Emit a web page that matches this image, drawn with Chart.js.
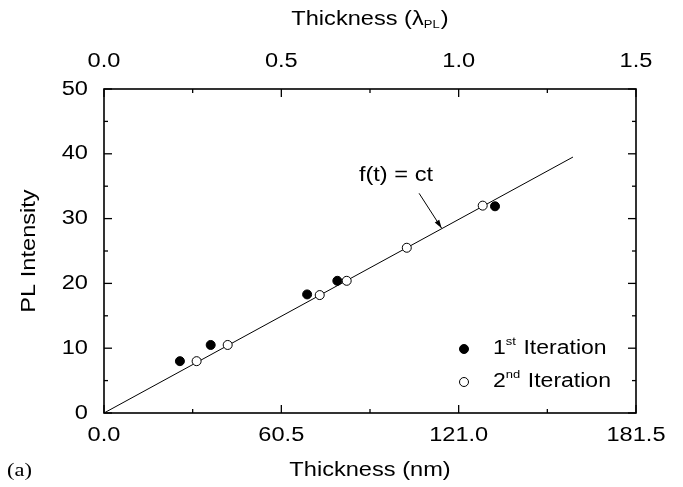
<!DOCTYPE html>
<html>
<head>
<meta charset="utf-8">
<script src="https://cdn.jsdelivr.net/npm/chart.js@4.4.1/dist/chart.umd.min.js"></script>
<style>
  html, body { margin: 0; padding: 0; background: #fff; }
  #wrap { width: 683px; height: 487px; }
</style>
</head>
<body>
<div id="wrap"><canvas id="pl-chart" width="683" height="487"></canvas></div>
<script>
// measured PL intensity vs. layer thickness
const iter1Thickness = [25.9, 36.4, 69.3, 79.6, 133.4];
const iter1Intensity = [8.0, 10.5, 18.3, 20.4, 31.9];
const iter2Thickness = [31.6, 42.2, 73.6, 82.8, 103.3, 129.2];
const iter2Intensity = [8.0, 10.5, 18.2, 20.4, 25.5, 32.0];

// linear fit f(t) = ct
const fitThickness = [0, 160];
const fitIntensity = [0, 39.5];

// axis ticks
const nmTicks = [0, 30.25, 60.5, 90.75, 121, 151.25, 181.5];
const nmLabels = [0, 60.5, 121, 181.5];
const lambdaTicks = [0, 0.25, 0.5, 0.75, 1.0, 1.25, 1.5];
const lambdaLabels = [0, 0.5, 1.0, 1.5];
const intensityTicks = [0, 5, 10, 15, 20, 25, 30, 35, 40, 45, 50];
const intensityLabels = [0, 10, 20, 30, 40, 50];

const FONT = '"Liberation Sans", Arial, sans-serif';
const SERIF = '"Liberation Serif", "Times New Roman", serif';
const STRETCH = 1.18; // glyphs are a little wide in this figure style

function toPoints(xs, ys) {
  return xs.map((x, i) => ({ x: x, y: ys[i] }));
}

function setTicks(list) {
  return (scale) => {
    scale.ticks = list.map((v) => ({ value: v }));
  };
}

function hasLabel(list, v) {
  return list.some((l) => Math.abs(l - v) < 1e-6);
}

// draws a run of text pieces [{t, size, dy, family}] starting/centred at x
function drawRich(ctx, parts, x, y, align, rotate) {
  ctx.save();
  ctx.translate(x, y);
  if (rotate) ctx.rotate(-Math.PI / 2);
  ctx.scale(STRETCH, 1);
  ctx.textBaseline = "middle";
  ctx.textAlign = "left";
  const widths = parts.map((p) => {
    ctx.font = p.size + "px " + (p.family || FONT);
    return ctx.measureText(p.t).width + (p.gap || 0);
  });
  const total = widths.reduce((a, b) => a + b, 0);
  let cx = align === "center" ? -total / 2 : align === "right" ? -total : 0;
  parts.forEach((p, i) => {
    ctx.font = p.size + "px " + (p.family || FONT);
    ctx.fillText(p.t, cx, p.dy || 0);
    cx += widths[i];
  });
  ctx.restore();
}

function drawText(ctx, text, x, y, align, size, rotate) {
  drawRich(ctx, [{ t: text, size: size || 20 }], x, y, align, rotate);
}

// frame, inward ticks, tick labels, legend and text
const decorPlugin = {
  id: "decor",
  afterDraw(chart) {
    const { ctx, chartArea: a, scales } = chart;
    ctx.save();
    ctx.strokeStyle = "#000";
    ctx.fillStyle = "#000";

    ctx.lineWidth = 1.6;
    ctx.strokeRect(a.left, a.top, a.right - a.left, a.bottom - a.top);

    ctx.lineWidth = 1.3;
    const seg = (x1, y1, x2, y2) => {
      ctx.beginPath();
      ctx.moveTo(x1, y1);
      ctx.lineTo(x2, y2);
      ctx.stroke();
    };
    nmTicks.forEach((v) => {
      const p = scales.x.getPixelForValue(v);
      const major = hasLabel(nmLabels, v);
      seg(p, a.bottom, p, a.bottom - (major ? 8 : 4));
      if (major) drawText(ctx, v.toFixed(1), p, 435, "center");
    });
    lambdaTicks.forEach((v) => {
      const p = scales.x2.getPixelForValue(v);
      const major = hasLabel(lambdaLabels, v);
      seg(p, a.top, p, a.top + (major ? 8 : 4));
      if (major) drawText(ctx, v.toFixed(1), p, 61, "center");
    });
    intensityTicks.forEach((v) => {
      const p = scales.y.getPixelForValue(v);
      const major = hasLabel(intensityLabels, v);
      const len = major ? 8 : 4;
      seg(a.left, p, a.left + len, p);
      seg(a.right, p, a.right - len, p);
      if (major) drawText(ctx, String(v), a.left - 16, p, "right");
    });

    // axis titles
    const midX = (a.left + a.right) / 2;
    drawText(ctx, "Thickness (nm)", midX, 470, "center");
    drawRich(ctx, [
      { t: "Thickness (\u03bb", size: 20 },
      { t: "PL", size: 11, dy: 6, gap: 1 },
      { t: ")", size: 20 },
    ], midX, 19, "center");
    drawText(ctx, "PL Intensity", 29, (a.top + a.bottom) / 2, "center", 20, true);
    drawRich(ctx, [{ t: "(a)", size: 19, family: SERIF }], 7, 471, "left");

    // fit label and arrow
    const sx = scales.x, sy = scales.y;
    drawText(ctx, "f(t) = ct", sx.getPixelForValue(99.6), sy.getPixelForValue(36.7), "center");
    const x0 = sx.getPixelForValue(107.5), y0 = sy.getPixelForValue(33.9);
    const x1 = sx.getPixelForValue(115.2), y1 = sy.getPixelForValue(28.5);
    ctx.lineWidth = 1;
    seg(x0, y0, x1, y1);
    const ang = Math.atan2(y1 - y0, x1 - x0);
    ctx.beginPath();
    ctx.moveTo(x1, y1);
    ctx.lineTo(x1 - 9 * Math.cos(ang - 0.3), y1 - 9 * Math.sin(ang - 0.3));
    ctx.lineTo(x1 - 9 * Math.cos(ang + 0.3), y1 - 9 * Math.sin(ang + 0.3));
    ctx.closePath();
    ctx.fill();

    // legend
    const rows = [
      { y: 349, fill: "#000", num: "1", sup: "st" },
      { y: 382, fill: "#fff", num: "2", sup: "nd" },
    ];
    rows.forEach((r) => {
      ctx.beginPath();
      ctx.arc(464, r.y, 4.5, 0, Math.PI * 2);
      ctx.fillStyle = r.fill;
      ctx.fill();
      ctx.lineWidth = 1;
      ctx.strokeStyle = "#000";
      ctx.stroke();
      ctx.fillStyle = "#000";
      drawRich(ctx, [
        { t: r.num, size: 19.5 },
        { t: r.sup, size: 11, dy: -7, gap: 1 },
        { t: " Iteration", size: 19.5 },
      ], 493, r.y, "left");
    });

    ctx.restore();
  },
};

const ctx = document.getElementById("pl-chart").getContext("2d");
new Chart(ctx, {
  type: "scatter",
  data: {
    datasets: [
      {
        label: "f(t) = ct",
        data: toPoints(fitThickness, fitIntensity),
        showLine: true,
        borderColor: "#000",
        borderWidth: 1,
        pointRadius: 0,
        order: 3,
      },
      {
        label: "1st Iteration",
        data: toPoints(iter1Thickness, iter1Intensity),
        pointRadius: 4.5,
        backgroundColor: "#000",
        borderColor: "#000",
        borderWidth: 1,
        order: 2,
      },
      {
        label: "2nd Iteration",
        data: toPoints(iter2Thickness, iter2Intensity),
        pointRadius: 4.5,
        backgroundColor: "#fff",
        borderColor: "#000",
        borderWidth: 1,
        order: 1,
      },
    ],
  },
  options: {
    responsive: false,
    animation: false,
    layout: { padding: { left: 0, right: 47, top: 0, bottom: 0 } },
    plugins: { legend: { display: false }, tooltip: { enabled: false } },
    scales: {
      x: {
        type: "linear",
        position: "bottom",
        min: 0,
        max: 181.5,
        afterBuildTicks: setTicks(nmTicks),
        afterFit: (s) => { s.height = 74; },
        grid: { display: false, drawTicks: false },
        border: { display: false },
        ticks: { display: false },
      },
      x2: {
        type: "linear",
        position: "top",
        min: 0,
        max: 1.5,
        afterBuildTicks: setTicks(lambdaTicks),
        afterFit: (s) => { s.height = 89; },
        grid: { display: false, drawTicks: false },
        border: { display: false },
        ticks: { display: false },
      },
      y: {
        type: "linear",
        min: 0,
        max: 50,
        afterBuildTicks: setTicks(intensityTicks),
        afterFit: (s) => { s.width = 104; },
        grid: { display: false, drawTicks: false },
        border: { display: false },
        ticks: { display: false },
      },
    },
  },
  plugins: [decorPlugin],
});
</script>
</body>
</html>
